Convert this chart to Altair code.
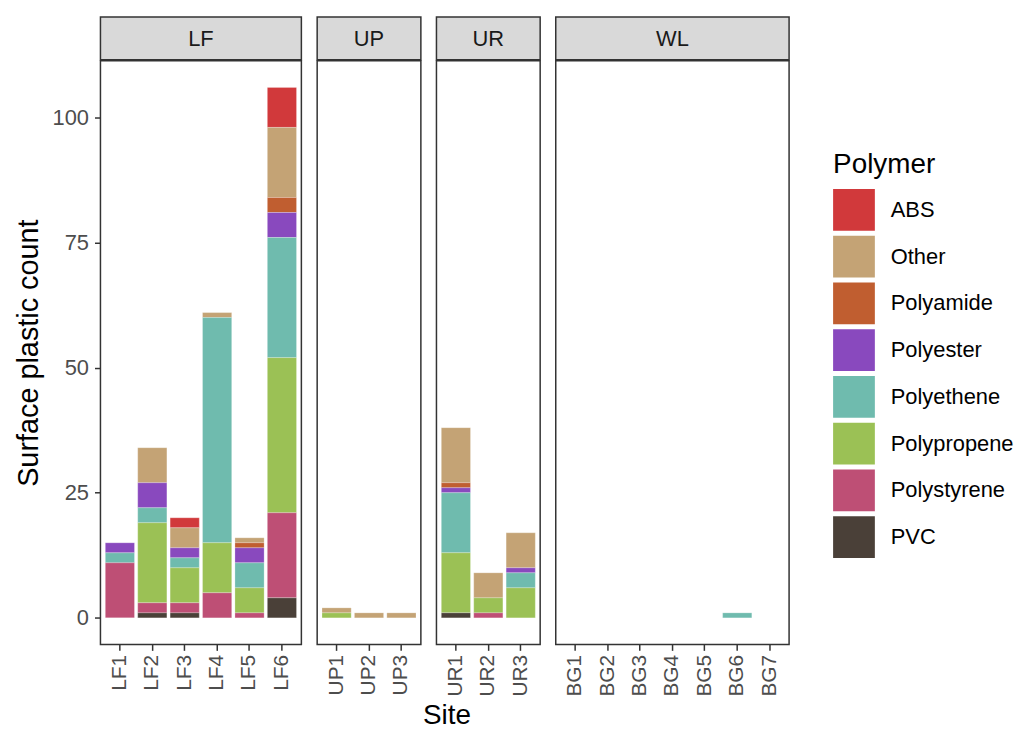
import altair as alt
import pandas as pd

sites = ["LF1", "LF2", "LF3", "LF4", "LF5", "LF6",
         "UP1", "UP2", "UP3",
         "UR1", "UR2", "UR3",
         "BG1", "BG2", "BG3", "BG4", "BG5", "BG6", "BG7"]
groups = ["LF"] * 6 + ["UP"] * 3 + ["UR"] * 3 + ["WL"] * 7
group_names = ["LF", "UP", "UR", "WL"]

polymers = ["ABS", "Other", "Polyamide", "Polyester", "Polyethene",
            "Polypropene", "Polystyrene", "PVC"]
colors = ["#D1393B", "#C4A375", "#C05E30", "#8949BE", "#6FBBAE",
          "#9BC155", "#BE4F75", "#4A4038"]

#               LF1 LF2 LF3 LF4 LF5 LF6 UP1 UP2 UP3 UR1 UR2 UR3 BG1..BG7
abs_v =        [0,  0,  2,  0,  0,  8,  0,  0,  0,  0,  0,  0,  0, 0, 0, 0, 0, 0, 0]
other_v =      [0,  7,  4,  1,  1,  14, 1,  1,  1,  11, 5,  7,  0, 0, 0, 0, 0, 0, 0]
polyamide_v =  [0,  0,  0,  0,  1,  3,  0,  0,  0,  1,  0,  0,  0, 0, 0, 0, 0, 0, 0]
polyester_v =  [2,  5,  2,  0,  3,  5,  0,  0,  0,  1,  0,  1,  0, 0, 0, 0, 0, 0, 0]
polyethene_v = [2,  3,  2,  45, 5,  24, 0,  0,  0,  12, 0,  3,  0, 0, 0, 0, 0, 1, 0]
polyprop_v =   [0,  16, 7,  10, 5,  31, 1,  0,  0,  12, 3,  6,  0, 0, 0, 0, 0, 0, 0]
polystyr_v =   [11, 2,  2,  5,  1,  17, 0,  0,  0,  0,  1,  0,  0, 0, 0, 0, 0, 0, 0]
pvc_v =        [0,  1,  1,  0,  0,  4,  0,  0,  0,  1,  0,  0,  0, 0, 0, 0, 0, 0, 0]

series = [abs_v, other_v, polyamide_v, polyester_v, polyethene_v,
          polyprop_v, polystyr_v, pvc_v]

rows = []
for p_i, (poly, vals) in enumerate(zip(polymers, series)):
    for s, g, v in zip(sites, groups, vals):
        if v > 0:
            rows.append({"Site": s, "Group": g, "Polymer": poly,
                         "Count": v, "rank": len(polymers) - 1 - p_i})
df = pd.DataFrame(rows)

FONT = "Liberation Sans"
STEP = 32.6
HEIGHT = 587
STRIP = 44

panels = []
for gi, g in enumerate(group_names):
    g_sites = [s for s, gg in zip(sites, groups) if gg == g]
    w = STEP * (len(g_sites) + 0.2)
    x_kw = dict(labelAngle=-90, labelFontSize=21, labelColor="#4D4D4D",
                tickColor="#333333", tickSize=6, tickWidth=1.5,
                domain=False, labelPadding=4, labelFont=FONT,
                labelBaseline="middle", labelAlign="right")
    if g == "UR":
        x_axis = alt.Axis(title="Site", titleFontSize=28, titleFont=FONT,
                          titleFontWeight="normal", titleColor="black",
                          titleX=10, titlePadding=6, **x_kw)
    else:
        x_axis = alt.Axis(title=None, **x_kw)
    if gi == 0:
        y_axis = alt.Axis(values=[0, 25, 50, 75, 100], labelFontSize=22,
                          labelColor="#4D4D4D", tickColor="#333333", tickSize=6,
                          tickWidth=1.5, domain=False, grid=False,
                          labelPadding=6,
                          title="Surface plastic count", titleFontSize=29,
                          titleFont=FONT, labelFont=FONT,
                          titleFontWeight="normal", titleColor="black",
                          titlePadding=9)
    else:
        y_axis = None

    bars = alt.Chart(df[df["Group"] == g]).mark_bar(
        stroke="white", strokeWidth=0.4, strokeOpacity=0.6
    ).encode(
        x=alt.X("Site:N", sort=g_sites,
                scale=alt.Scale(domain=g_sites, paddingInner=0.1, paddingOuter=0.15),
                axis=x_axis),
        y=alt.Y("sum(Count):Q", stack="zero",
                scale=alt.Scale(domain=[-5.3, 111.3], nice=False, zero=False),
                axis=y_axis),
        color=alt.Color("Polymer:N",
                        scale=alt.Scale(domain=polymers, range=colors),
                        legend=alt.Legend(title="Polymer", orient="none",
                                          legendX=737, legendY=91)),
        order=alt.Order("rank:Q", sort="ascending"),
    )

    strip_df = pd.DataFrame({"Group": [g]})
    strip = alt.Chart(strip_df).mark_rect(
        fill="#D9D9D9", stroke="#333333", strokeWidth=1.5
    ).encode(
        x=alt.value(0), x2=alt.value(w),
        y=alt.value(-STRIP), y2=alt.value(-1),
    )
    strip_text = alt.Chart(strip_df).mark_text(
        fontSize=22, font=FONT, color="#1A1A1A", baseline="middle", align="center"
    ).encode(
        x=alt.value(w / 2), y=alt.value(-STRIP / 2), text="Group:N"
    )
    panels.append(alt.layer(strip, strip_text, bars).properties(width=w, height=HEIGHT))

chart = alt.hconcat(*panels, spacing=15, bounds="flush").resolve_scale(
    y="shared", color="shared"
).configure_view(
    stroke="#333333", strokeWidth=1.5
).configure_legend(
    titleFontSize=28, titleFont=FONT, titleFontWeight="normal", titleColor="black",
    labelFontSize=22, labelFont=FONT, labelColor="black",
    symbolType="square", symbolSize=1764, symbolStrokeWidth=0,
    symbolOpacity=1, rowPadding=5, labelOffset=16, titlePadding=10
).properties(
    padding={"left": 5, "top": 5, "right": 5, "bottom": 5}
)

chart.save("out.html", embed_options={"renderer": "svg", "actions": False})
